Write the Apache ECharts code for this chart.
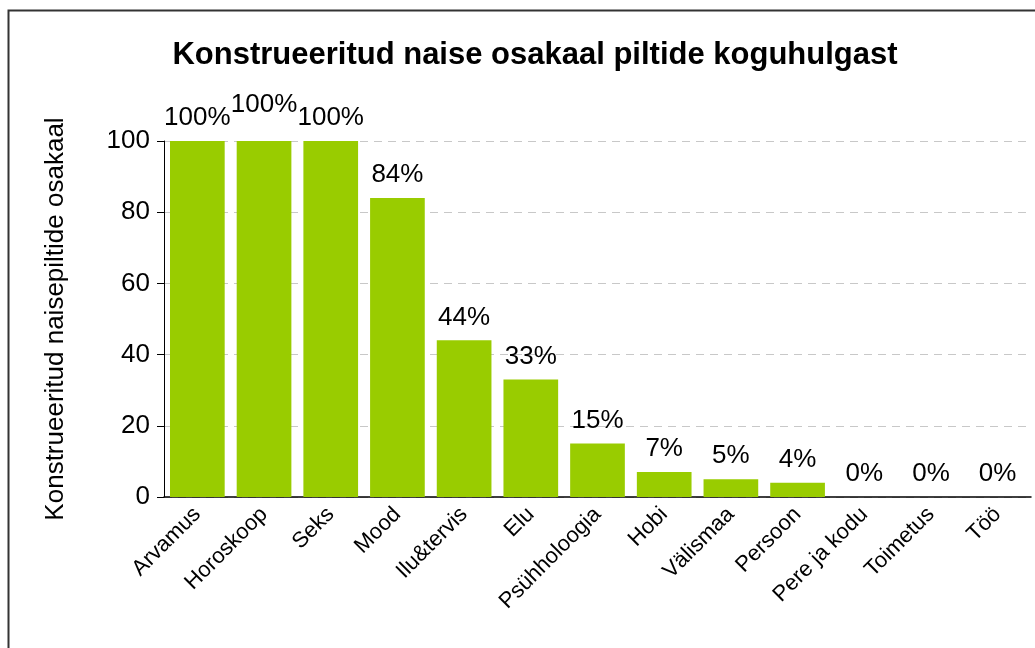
<!DOCTYPE html>
<html>
<head>
<meta charset="utf-8">
<script src="https://cdn.jsdelivr.net/npm/echarts@6/dist/echarts.min.js"></script>
<style>
  html, body { margin: 0; padding: 0; background: #fff; }
  #chart { width: 1035px; height: 648px; }
</style>
</head>
<body>
<div id="chart"></div>
<script>
const categories = ['Arvamus', 'Horoskoop', 'Seks', 'Mood', 'Ilu&tervis', 'Elu', 'Psühholoogia',
  'Hobi', 'Välismaa', 'Persoon', 'Pere ja kodu', 'Toimetus', 'Töö']
const shares = [100, 100, 100, 84, 44, 33, 15, 7, 5, 4, 0, 0, 0]
const yTicks = [0, 20, 40, 60, 80, 100]

const font = 'Liberation Sans, Arial, sans-serif'
const chart = echarts.init(document.getElementById('chart'))

chart.setOption({
  animation: false,
  title: {
    text: 'Konstrueeritud naise osakaal piltide koguhulgast',
    left: 530,
    top: 35,
    textAlign: 'center',
    textStyle: { fontFamily: font, fontSize: 31, fontWeight: 900, color: '#000' }
  },
  graphic: [{
    type: 'rect',
    shape: { x: 8.5, y: 10.5, width: 1100, height: 700 },
    style: { fill: 'none', stroke: '#333', lineWidth: 2 },
    silent: true
  }],
  grid: { left: 164, right: 4, top: 141, bottom: 151 },
  xAxis: {
    type: 'category',
    data: categories,
    axisLine: { lineStyle: { color: '#000', width: 1.5 } },
    axisTick: { length: 6, lineStyle: { color: '#777' } },
    axisLabel: { rotate: 45, fontFamily: font, fontSize: 22, color: '#000', margin: 14, interval: 0 }
  },
  yAxis: {
    type: 'value',
    min: yTicks[0],
    max: yTicks[yTicks.length - 1],
    interval: 20,
    name: 'Konstrueeritud naisepiltide osakaal',
    nameLocation: 'middle',
    nameGap: 95,
    nameTextStyle: { fontFamily: font, fontSize: 26, color: '#000' },
    axisLine: { show: true, lineStyle: { color: '#000', width: 1 } },
    axisTick: { show: true, length: 7, lineStyle: { color: '#000' } },
    axisLabel: { fontFamily: font, fontSize: 26, color: '#000', margin: 14 },
    splitLine: { lineStyle: { type: [8, 6], color: '#c8c8c8' } }
  },
  series: [{
    type: 'bar',
    data: shares,
    barCategoryGap: '18%',
    itemStyle: { color: '#99cc00' },
    // the middle of the three 100% labels sits higher, as in the original
    labelLayout: p => (p.dataIndex === 1 ? { dy: -13 } : {}),
    label: {
      show: true,
      position: 'top',
      distance: 10,
      formatter: p => p.value + '%',
      fontFamily: font,
      fontSize: 26,
      color: '#000'
    }
  }]
})
</script>
</body>
</html>
